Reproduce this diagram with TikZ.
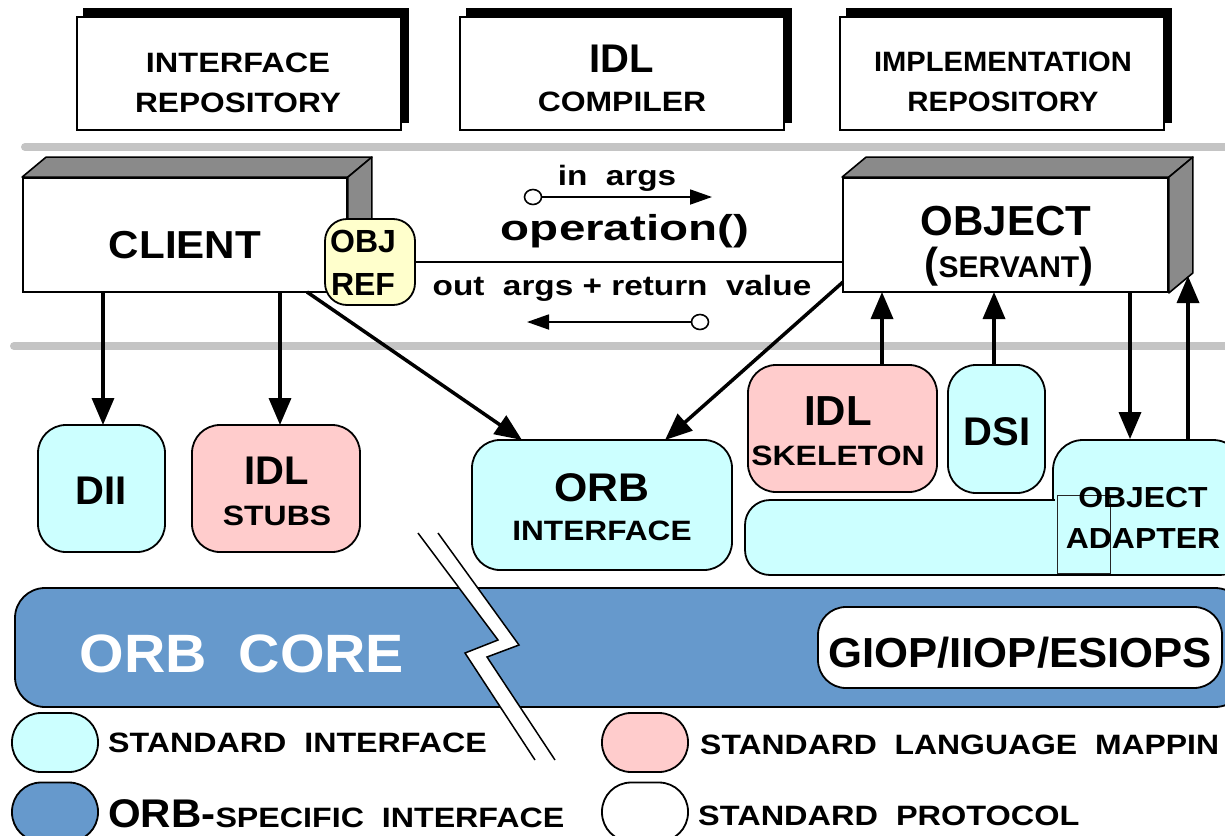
\documentclass[tikz,border=0pt]{standalone}
\usepackage{fontspec}
\setmainfont{Liberation Sans}
\usepackage{graphicx}
\usetikzlibrary{arrows.meta,calc,shadows,shapes.geometric}
\definecolor{cy}{HTML}{CCFFFF}
\definecolor{pk}{HTML}{FFCCCC}
\definecolor{yl}{HTML}{FFFFCC}
\definecolor{bl}{HTML}{6699CC}
\definecolor{gb}{HTML}{C4C4C4}
\definecolor{face}{HTML}{8A8A8A}
\newcommand\sx[2]{\scalebox{#1}[1]{#2}}
\newcommand\fs[1]{\fontsize{#1}{#1}\selectfont\bfseries}
\begin{document}
\begin{tikzpicture}[x=1pt,y=-1pt,
  box/.style={draw=black,line width=1.8pt,inner sep=0pt},
  topbox/.style={box,fill=white,minimum width=324pt,minimum height=113pt,
     copy shadow={shadow xshift=7pt,shadow yshift=8pt,fill=black,draw=black}},
  rbox/.style={box,rounded corners=28pt},
  pill/.style={box,rounded corners=29pt,minimum width=86pt,minimum height=59pt},
  face3d/.style={draw=black,line width=1.6pt,fill=face,line join=round},
  txt/.style={inner sep=0pt,anchor=base},
  ltxt/.style={inner sep=0pt,anchor=base west},
  arr/.style={line width=3.5pt,-{Triangle[length=27pt,width=22pt]}},
  smarr/.style={line width=1.8pt,-{Triangle[length=22pt,width=15pt]}},
  circ/.style={draw=black,line width=1.6pt,fill=white,ellipse,inner sep=0pt,minimum width=17pt,minimum height=15pt},
  gbar/.style={line width=8pt,line cap=round,draw=gb},
]
\useasboundingbox (0,0) rectangle (1225,835);
\clip (0,0) rectangle (1225,835);
\fill[white] (0,0) rectangle (1225,835);

% separator bars
\draw[gbar] (25,147) -- (1240,147);
\draw[gbar] (14,346) -- (1240,346);

% top boxes
\node[topbox] (ir) at (239,73.5) {};
\node[topbox] (idlc) at (622,73.5) {};
\node[topbox] (impl) at (1002,73.5) {};
\node[txt] (t1) at (238,72) {\fs{28}\sx{1.16}{INTERFACE}};
\node[txt] (t2) at (238,112) {\fs{28}\sx{1.13}{REPOSITORY}};
\node[txt] (t3) at (622,72) {\fs{40}IDL};
\node[txt] (t4) at (622,111) {\fs{28}\sx{1.14}{COMPILER}};
\node[txt] (t5) at (1003,71) {\fs{28}\sx{1.04}{IMPLEMENTATION}};
\node[txt] (t6) at (1003,111) {\fs{28}\sx{1.05}{REPOSITORY}};

% client 3D box
\node[box,fill=white,minimum width=324pt,minimum height=114pt] (client) at (185,235) {};
\draw[face3d] (client.north west) -- ++(24,-20) -- ($(client.north east)+(24,-20)$) -- (client.north east) -- cycle;
\draw[face3d] (client.north east) -- ++(24,-20) -- ($(client.south east)+(24,-20)$) -- (client.south east) -- cycle;
\node[txt] (tc) at (185,258) {\fs{39}\sx{1.08}{CLIENT}};

% object 3D box
\node[box,fill=white,minimum width=325pt,minimum height=114pt] (obj) at (1005.5,235) {};
\draw[face3d] (obj.north west) -- ++(24,-20) -- ($(obj.north east)+(24,-20)$) -- (obj.north east) -- cycle;
\draw[face3d] (obj.north east) -- ++(24,-20) -- ($(obj.south east)+(24,-20)$) -- (obj.south east) -- cycle;
\node[txt] (to1) at (1006,235) {\fs{42}OBJECT};
\node[txt] (to2) at (1009,277) {\fs{42}(\fs{30}SERVANT\fs{42})};

% obj ref
\node[box,fill=yl,rounded corners=22pt,minimum width=90pt,minimum height=86pt] (objref) at (370,262) {};
\node[txt] (tr1) at (363,252) {\fs{32}OBJ};
\node[txt] (tr2) at (363,295) {\fs{32}REF};

% operation line
\draw[line width=1.8pt] (objref.east) -- (objref.east -| obj.west);
\node[txt] (tin) at (617,185) {\fs{28}\sx{1.19}{in\ \ args}};
\node[txt] (top) at (625,240) {\fs{36}\sx{1.32}{operation()}};
\node[txt] (tout) at (622,295) {\fs{28}\sx{1.19}{out\ \ args + return\ \ value}};
\node[circ] (c1) at (533,197) {};
\coordinate (a1) at (712,197);
\draw[smarr] (c1.east) -- (a1);
\node[circ] (c2) at (700,322) {};
\coordinate (a2) at (527,322);
\draw[smarr] (c2.west) -- (a2);

% middle boxes
\node[rbox,fill=cy,minimum width=127pt,minimum height=127pt] (dii) at (101.5,488.5) {};
\node[txt] at (101.5,504) {\fs{40}DII};
\node[rbox,fill=pk,minimum width=168pt,minimum height=127pt] (stubs) at (276,488.5) {};
\node[txt] at (277,484) {\fs{40}IDL};
\node[txt] at (277,525) {\fs{28}\sx{1.14}{STUBS}};
\node[rbox,fill=cy,minimum width=260pt,minimum height=130pt] (orbi) at (602,505) {};
\node[txt] at (602,501) {\fs{40}\sx{1.07}{ORB}};
\node[txt] at (602,540) {\fs{28}\sx{1.13}{INTERFACE}};
\node[rbox,fill=pk,minimum width=189pt,minimum height=127pt] (skel) at (842.5,428.5) {};
\node[txt] at (838,425) {\fs{42}IDL};
\node[txt] at (838,465) {\fs{28}\sx{1.14}{SKELETON}};
\node[rbox,fill=cy,minimum width=97pt,minimum height=128pt] (dsi) at (996.5,429) {};
\node[txt] at (997,445) {\fs{40}DSI};

% object adapter
\node[rbox,fill=cy,rounded corners=30pt,minimum width=190pt,minimum height=135pt] (oa) at (1148,507.5) {};
\node[rbox,fill=cy,rounded corners=25pt,minimum width=500pt,minimum height=75pt] (oab) at (995,537.5) {};
\fill[cy] (1055,498.5) rectangle (1250,574);
\draw[black!85,line width=0.8pt] (1057,495) rectangle (1110,573);
\node[txt] at (1143,507) {\fs{29}\sx{1.1}{OBJECT}};
\node[txt] at (1143,548) {\fs{29}\sx{1.1}{ADAPTER}};

% arrows
\coordinate (s1) at (103,292);
\coordinate (e1) at (103,425);
\draw[arr] (s1) -- (e1);
\coordinate (s2) at (280,292);
\coordinate (e2) at (280,425);
\draw[arr] (s2) -- (e2);
\coordinate (s3) at (307,292);
\coordinate (e3) at (522,440);
\draw[arr] (s3) -- (e3);
\coordinate (s4) at (843,282);
\coordinate (e4) at (665,440);
\draw[arr] (s4) -- (e4);
\draw[arr] (skel.north -| 882,0) -- (882,292);
\draw[arr] (dsi.north -| 994,0) -- (994,292);
\draw[arr] (1130,292) -- (oa.north -| 1130,0);
\draw[arr] (oa.north -| 1188,0) -- (1188,276);

% ORB core
\node[rbox,fill=bl,rounded corners=30pt,minimum width=1230pt,minimum height=119pt] (core) at (630,647.5) {};
\node[txt] (tcore) at (242,672) {\fs{54}\textcolor{white}{\sx{1.06}{ORB\ \ CORE}}};
\node[rbox,fill=white,minimum width=404pt,minimum height=81pt] (giop) at (1020,647.5) {};
\node[txt] at (1020,667) {\fs{42}\sx{1.04}{GIOP/IIOP/ESIOPS}};

% break mark
\fill[white] (418,533) -- (498,640) -- (465,653) -- (535,760) -- (555,760) -- (487,657) -- (519,645) -- (438,533) -- cycle;
\draw[line width=1.5pt,line join=miter] (418,533) -- (498,640) -- (465,653) -- (535,760);
\draw[line width=1.5pt,line join=miter] (438,533) -- (519,645) -- (487,657) -- (555,760);

% legend
\node[pill,fill=cy] (l1) at (55,742.5) {};
\node[ltxt] at (108,752) {\fs{28}\sx{1.15}{STANDARD\ \ INTERFACE}};
\node[pill,fill=bl] (l2) at (55,812) {};
\node[ltxt] at (108,827) {\fs{40}\sx{1.05}{ORB-}\fs{28}\sx{1.15}{SPECIFIC\ \ INTERFACE}};
\node[pill,fill=pk] (l3) at (645,742.5) {};
\node[ltxt] at (700,754) {\fs{28}\sx{1.14}{STANDARD\ \ LANGUAGE\ \ MAPPIN}};
\node[pill,fill=white] (l4) at (645,812) {};
\node[ltxt] at (698,825) {\fs{28}\sx{1.16}{STANDARD\ \ PROTOCOL}};
\end{tikzpicture}
\end{document}
